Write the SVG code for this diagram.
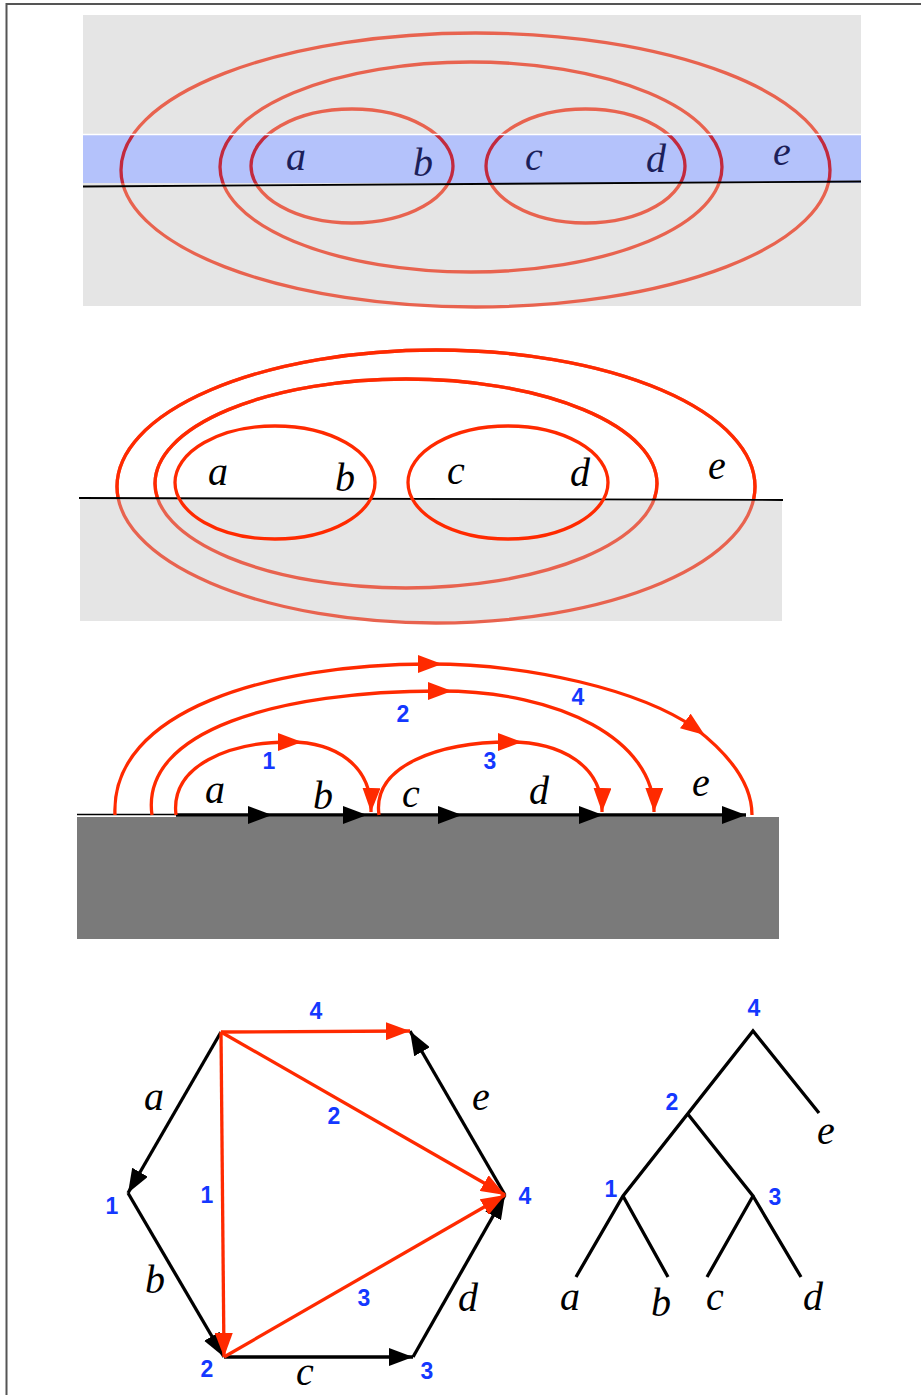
<svg xmlns="http://www.w3.org/2000/svg" width="921" height="1395" viewBox="0 0 921 1395">
<style>
.m{font-family:"Liberation Sans","Liberation Serif","DejaVu Serif",serif;font-family:"Liberation Serif","DejaVu Serif",serif;font-style:italic;font-size:40px;text-anchor:middle}
.n{font-family:"Liberation Sans",Arial,sans-serif;font-weight:bold;font-size:23px;fill:#1438ff;text-anchor:middle}
.e1{fill:none;stroke:#e8634f;stroke-width:3.3}
.rd{fill:none;stroke:#ff2a00;stroke-width:3.3}
.bk{fill:none;stroke:#000;stroke-width:3.3}
</style>
<defs>
<marker id="ab" markerUnits="userSpaceOnUse" markerWidth="24" markerHeight="18" refX="24" refY="9" orient="auto"><path d="M0,0 L24,9 L0,18 z" fill="#000"/></marker>
<marker id="ar" markerUnits="userSpaceOnUse" markerWidth="24" markerHeight="18" refX="24" refY="9" orient="auto"><path d="M0,0 L24,9 L0,18 z" fill="#ff2a00"/></marker>
<marker id="am" markerUnits="userSpaceOnUse" markerWidth="24" markerHeight="18" refX="12" refY="9" orient="auto"><path d="M0,0 L24,9 L0,18 z" fill="#ff2a00"/></marker>
<clipPath id="band"><rect x="83" y="135" width="778" height="48"/></clipPath>
<clipPath id="above"><rect x="0" y="300" width="921" height="199"/></clipPath>
</defs>
<g id="frame"><path d="M6.5,1395 V4 H921" fill="none" stroke="#555" stroke-width="2"/></g>

<g id="panel1">
<rect x="83" y="15" width="778" height="291" fill="#e5e5e5"/>
<ellipse class="e1" cx="475.5" cy="170" rx="354.5" ry="137"/>
<ellipse class="e1" cx="471" cy="167" rx="251" ry="105"/>
<ellipse class="e1" cx="352" cy="166" rx="101" ry="57"/>
<ellipse class="e1" cx="585.5" cy="166" rx="99.5" ry="57"/>
<rect x="83" y="135" width="778" height="48" fill="#b4c2fb"/>
<g clip-path="url(#band)" fill="none" stroke="#c22a3e" stroke-width="3.3">
<ellipse cx="475.5" cy="170" rx="354.5" ry="137"/>
<ellipse cx="471" cy="167" rx="251" ry="105"/>
<ellipse cx="352" cy="166" rx="101" ry="57"/>
<ellipse cx="585.5" cy="166" rx="99.5" ry="57"/>
</g>
<line x1="83" y1="134.5" x2="861" y2="134.5" stroke="#fff" stroke-width="1.5"/>
<line x1="83" y1="186.5" x2="861" y2="181.5" stroke="#000" stroke-width="1.8"/>
<g fill="#1c1f5a">
<text class="m" x="296" y="170">a</text>
<text class="m" x="423" y="176">b</text>
<text class="m" x="534" y="170">c</text>
<text class="m" x="656" y="172">d</text>
<text class="m" x="782" y="165">e</text>
</g>
</g>

<g id="panel2">
<rect x="80" y="499" width="702" height="122" fill="#e5e5e5"/>
<ellipse class="e1" cx="436" cy="486.5" rx="319" ry="136.5"/>
<ellipse class="e1" cx="406" cy="483.5" rx="251" ry="104.5"/>
<g clip-path="url(#above)">
<ellipse class="rd" cx="436" cy="486.5" rx="319" ry="136.5"/>
<ellipse class="rd" cx="406" cy="483.5" rx="251" ry="104.5"/>
</g>
<line x1="79" y1="498" x2="783" y2="500" stroke="#000" stroke-width="1.8"/>
<ellipse class="rd" cx="275" cy="482.5" rx="100" ry="56.5"/>
<ellipse class="rd" cx="508" cy="482.5" rx="100" ry="56.5"/>
<text class="m" x="218" y="485">a</text>
<text class="m" x="345" y="491">b</text>
<text class="m" x="456" y="484">c</text>
<text class="m" x="580" y="486">d</text>
<text class="m" x="717" y="479">e</text>
</g>

<g id="panel3">
<rect x="77" y="816" width="702" height="123" fill="#7a7a7a"/>
<line x1="77" y1="816.5" x2="779" y2="816.5" stroke="#fff" stroke-width="1"/>
<line x1="77" y1="814.5" x2="176" y2="814.5" stroke="#000" stroke-width="1.5"/>
<text class="m" x="215" y="803">a</text>
<text class="m" x="323" y="809">b</text>
<text class="m" x="411" y="807">c</text>
<text class="m" x="539" y="804">d</text>
<text class="m" x="701" y="796">e</text>
<text class="n" x="269" y="768.5">1</text>
<text class="n" x="403" y="721.5">2</text>
<text class="n" x="490" y="768.5">3</text>
<text class="n" x="578" y="704.5">4</text>
</g>

<g id="panel4">
<text class="m" x="154" y="1110">a</text>
<text class="m" x="155" y="1293">b</text>
<text class="m" x="305" y="1385">c</text>
<text class="m" x="468" y="1311">d</text>
<text class="m" x="481" y="1110">e</text>
<text class="n" x="316" y="1018.5">4</text>
<text class="n" x="334" y="1123.5">2</text>
<text class="n" x="207" y="1202.5">1</text>
<text class="n" x="364" y="1305.5">3</text>
<text class="n" x="112" y="1213.5">1</text>
<text class="n" x="207" y="1376.5">2</text>
<text class="n" x="427" y="1378.5">3</text>
<text class="n" x="525" y="1203.5">4</text>
</g>

<g id="tree">
<path class="bk" d="M819,1113 L753,1031 L623,1196 L576,1277 M623,1196 L668,1277 M687,1113 L753,1196 L707,1277 M753,1196 L801,1277"/>
<text class="n" x="754" y="1015.5">4</text>
<text class="n" x="672" y="1109.5">2</text>
<text class="n" x="611" y="1196.5">1</text>
<text class="n" x="775" y="1204.5">3</text>
<text class="m" x="570" y="1310">a</text>
<text class="m" x="661" y="1316">b</text>
<text class="m" x="715" y="1310">c</text>
<text class="m" x="813" y="1310">d</text>
<text class="m" x="826" y="1144">e</text>
</g>

<g id="connectors">
<line class="bk" x1="176" y1="815" x2="272" y2="815" marker-end="url(#ab)"/>
<line class="bk" x1="272" y1="815" x2="367" y2="815" marker-end="url(#ab)"/>
<line class="bk" x1="367" y1="815" x2="462" y2="815" marker-end="url(#ab)"/>
<line class="bk" x1="462" y1="815" x2="603" y2="815" marker-end="url(#ab)"/>
<line class="bk" x1="603" y1="815" x2="746" y2="815" marker-end="url(#ab)"/>
<path class="rd" d="M176,815 C170,765 230,742 290,742 C335,742 372,765 371,812" marker-mid="url(#am)" marker-end="url(#ar)"/>
<path class="rd" d="M379,815 C372,765 440,742 510,742 C560,742 603,765 602,812" marker-mid="url(#am)" marker-end="url(#ar)"/>
<path class="rd" d="M152,815 C140,730 280,691 440,691 C560,691 655,740 654,812" marker-mid="url(#am)" marker-end="url(#ar)"/>
<path class="rd" d="M115,815 C110,710 270,664 430,664 C530,664 640,690 695,728 C730,755 752,785 752,815" marker-mid="url(#am)"/>

<line class="bk" x1="221" y1="1032" x2="128" y2="1193" marker-end="url(#ab)"/>
<line class="bk" x1="128" y1="1193" x2="224" y2="1357" marker-end="url(#ab)"/>
<line class="bk" x1="224" y1="1357" x2="413" y2="1357" marker-end="url(#ab)"/>
<line class="bk" x1="413" y1="1357" x2="505" y2="1195" marker-end="url(#ab)"/>
<line class="bk" x1="505" y1="1195" x2="410" y2="1031" marker-end="url(#ab)"/>
<line class="rd" x1="221" y1="1032" x2="410" y2="1031" marker-end="url(#ar)"/>
<line class="rd" x1="221" y1="1032" x2="224" y2="1357" marker-end="url(#ar)"/>
<line class="rd" x1="221" y1="1032" x2="505" y2="1195" marker-end="url(#ar)"/>
<line class="rd" x1="224" y1="1357" x2="505" y2="1195" marker-end="url(#ar)"/>
</g>
</svg>
